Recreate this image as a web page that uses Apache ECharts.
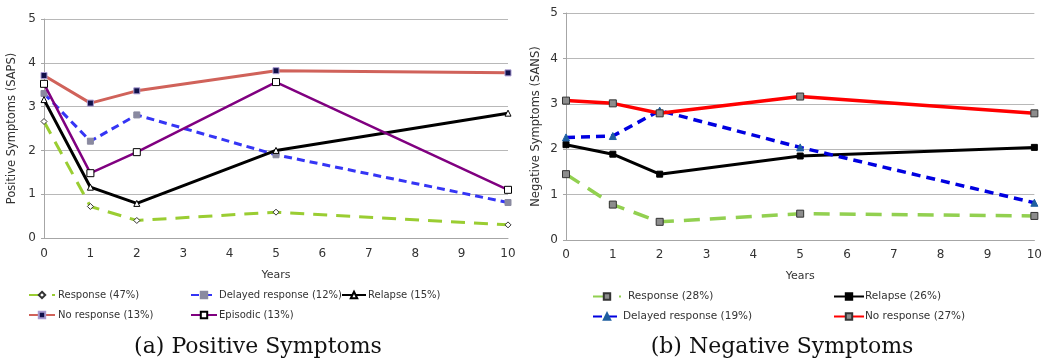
<!DOCTYPE html>
<html>
<head>
<meta charset="utf-8">
<script src="https://cdn.jsdelivr.net/npm/echarts@6/dist/echarts.min.js"></script>
<style>
html,body{margin:0;padding:0;background:#fff;}
#chart{width:1045px;height:362px;}
</style>
</head>
<body>
<div id="chart"></div>
<script>
// ---- data ----
var years = [0, 1, 2, 5, 10];
var xTicks = [0,1,2,3,4,5,6,7,8,9,10];

// (a) Positive symptoms (SAPS)
var posResponse  = [2.66, 0.72, 0.40, 0.59, 0.30];
var posDelayed   = [3.30, 2.21, 2.81, 1.90, 0.81];
var posRelapse   = [3.16, 1.16, 0.79, 2.00, 2.85];
var posNoResp    = [3.71, 3.08, 3.36, 3.82, 3.77];
var posEpisodic  = [3.52, 1.48, 1.96, 3.56, 1.10];

// (b) Negative symptoms (SANS)
var negResponse  = [1.45, 0.78, 0.40, 0.58, 0.53];
var negRelapse   = [2.10, 1.89, 1.45, 1.85, 2.04];
var negDelayed   = [2.26, 2.29, 2.85, 2.04, 0.82];
var negNoResp    = [3.07, 3.01, 2.79, 3.16, 2.79];

var posNames = ['Response (47%)', 'Delayed response (12%)', 'Relapse (15%)', 'No response (13%)', 'Episodic (13%)'];
var negNames = ['Response (28%)', 'Relapse (26%)', 'Delayed response (19%)', 'No response (27%)'];
var captions = ['(a) Positive Symptoms', '(b) Negative Symptoms'];
var yNames = ['Positive Symptoms (SAPS)', 'Negative Symptoms (SANS)'];
var xName = 'Years';

function pairs(vals){ return years.map(function(y,i){ return [y, vals[i]]; }); }

var FONT = 'DejaVu Sans';
var TXT = '#333';

function xAxisCfg(idx, gap, margin){
  return {
    type:'value', gridIndex: idx, min:0, max:10, interval:1,
    name: xName, nameLocation:'middle', nameGap: gap,
    nameTextStyle:{fontFamily:FONT, fontSize:11, color:TXT},
    axisLine:{show:true, onZero:false, lineStyle:{color:'#a6a6a6', width:1}},
    axisTick:{show:false},
    splitLine:{show:false},
    axisLabel:{fontFamily:FONT, fontSize:12, color:TXT, margin:margin,
      formatter:function(v){ return xTicks.indexOf(v) >= 0 ? String(v) : ''; }}
  };
}
function yAxisCfg(idx, gap){
  return {
    type:'value', gridIndex: idx, min:0, max:5, interval:1,
    name: yNames[idx], nameLocation:'middle', nameGap: gap, nameRotate:90,
    nameTextStyle:{fontFamily:FONT, fontSize:11.5, color:TXT},
    axisLine:{show:true, lineStyle:{color:'#a6a6a6', width:1}},
    axisTick:{show:true, length:3, lineStyle:{color:'#a6a6a6'}},
    splitLine:{show:true, lineStyle:{color:'#b8b8b8', width:1}},
    axisLabel:{fontFamily:FONT, fontSize:12, color:TXT, margin:8}
  };
}

function ser(name, data, axis, color, width, dash, symbol, size, fill, border, z){
  return {
    type:'line', name:name, data:pairs(data), xAxisIndex:axis, yAxisIndex:axis,
    symbol:symbol, symbolSize:size, showSymbol:true, z:z||2,
    lineStyle:{color:color, width:width, type:dash},
    itemStyle:{color:fill, borderColor:border, borderWidth:1},
    emphasis:{disabled:true}, animation:false
  };
}

var series = [
  ser(posNames[0], posResponse, 0, '#9acd32', 3, [14,9], 'diamond', 6, '#ffffff', '#333', 2),
  ser(posNames[1], posDelayed, 0, '#3535f5', 3, [8,5], 'rect', 6, '#8a8aa0', '#8a8aa0', 3),
  ser(posNames[2], posRelapse, 0, '#000000', 3, 'solid', 'triangle', 6, '#ffffff', '#000', 4),
  ser(posNames[3], posNoResp, 0, '#d0625a', 3, 'solid', 'rect', 6, '#10104a', '#a89ad0', 3),
  ser(posNames[4], posEpisodic, 0, '#800080', 2.5, 'solid', 'rect', 7, '#ffffff', '#000', 5),

  ser(negNames[0], negResponse, 1, '#92d050', 3.5, [16,10], 'rect', 7, '#8c8c8c', '#333', 2),
  ser(negNames[1], negRelapse, 1, '#000000', 3, 'solid', 'rect', 6, '#000000', '#000', 3),
  ser(negNames[2], negDelayed, 1, '#0000e0', 3.5, [9,6], 'triangle', 7, '#1f5fa0', '#1f5fa0', 4),
  ser(negNames[3], negNoResp, 1, '#ff0000', 3.5, 'solid', 'rect', 7, '#8c8c8c', '#333', 5)
];

function leg(name, left, top, w, pad, fs){
  return {
    data:[name], left:left, top:top, orient:'horizontal',
    itemWidth:w, itemHeight:8, itemGap:0, padding:0,
    textStyle:{fontFamily:FONT, fontSize:fs, color:TXT, padding:[0,0,0,pad]},
    selectedMode:false
  };
}

var legends = [
  leg(posNames[0], 28, 290, 26, -2, 10),
  leg(posNames[1], 190, 290, 26, -3, 10),
  leg(posNames[2], 341, 290, 24, -3, 10),
  leg(posNames[3], 28, 310, 26, -2, 10),
  leg(posNames[4], 190, 310, 26, -3, 10),
  leg(negNames[0], 592, 291, 28, 2, 10.5),
  leg(negNames[1], 833, 291, 30, -4, 10.5),
  leg(negNames[2], 592, 311, 28, -3, 10.5),
  leg(negNames[3], 833, 311, 30, -4, 10.5)
];

var chart = echarts.init(document.getElementById('chart'), null, {renderer:'canvas'});
chart.setOption({
  animation:false,
  backgroundColor:'#ffffff',
  grid:[
    {left:44, top:19, width:464, height:219, containLabel:false},
    {left:566, top:13, width:470, height:227, containLabel:false}
  ],
  xAxis:[xAxisCfg(0, 32, 10), xAxisCfg(1, 31, 9)],
  yAxis:[yAxisCfg(0, 26), yAxisCfg(1, 24)],
  legend: legends,
  series: series,
  graphic:[
    {type:'text', x:258, y:347, style:{text:captions[0], font:'22px "DejaVu Serif"', fill:'#111', textAlign:'center', textVerticalAlign:'middle'}},
    {type:'text', x:782, y:347, style:{text:captions[1], font:'22px "DejaVu Serif"', fill:'#111', textAlign:'center', textVerticalAlign:'middle'}}
  ]
});
</script>
</body>
</html>
